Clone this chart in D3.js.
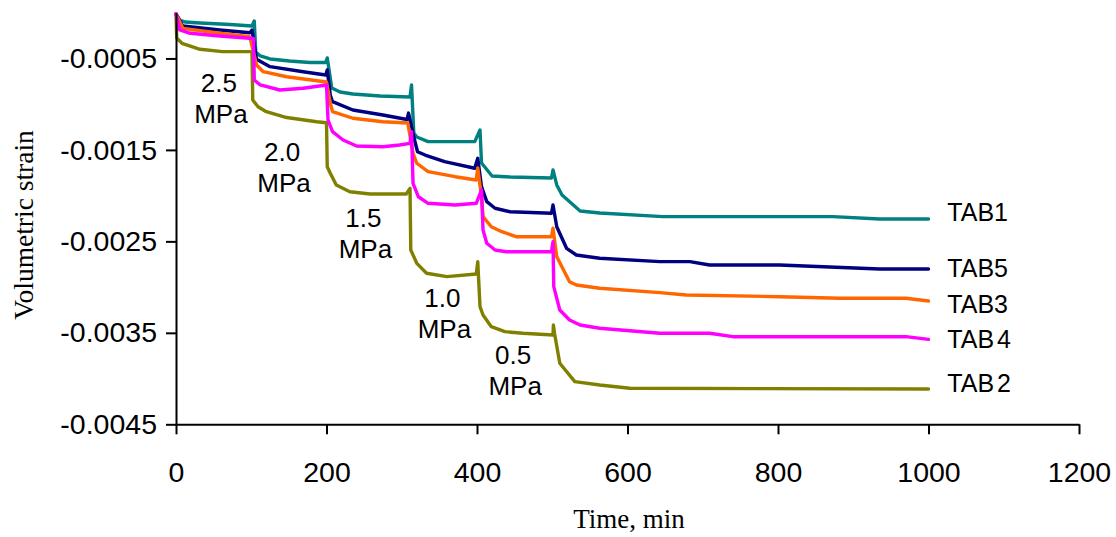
<!DOCTYPE html>
<html>
<head>
<meta charset="utf-8">
<script src="https://cdn.jsdelivr.net/npm/d3@7"></script>
<style>
  html, body { margin: 0; padding: 0; background: #fff; }
  svg { display: block; }
</style>
</head>
<body>
<svg id="chart" width="1116" height="537"></svg>
<script>
// ---------- DATA ----------
const timeTicks = [0, 200, 400, 600, 800, 1000, 1200];
const strainTicks = [-0.0005, -0.0015, -0.0025, -0.0035, -0.0045];

const seriesNames = ["TAB1", "TAB5", "TAB3", "TAB 4", "TAB 2"];
const seriesColors = ["#008080", "#000080", "#FF6600", "#FF00FF", "#808000"];

// [time (min), volumetric strain]
const tab1 = [
  [0,-0.014e-3],[5,-0.080e-3],[12,-0.102e-3],[32,-0.113e-3],[72,-0.129e-3],[101,-0.145e-3],
  [104,-0.091e-3],[106,-0.430e-3],[112,-0.473e-3],[125,-0.506e-3],[151,-0.528e-3],[178,-0.544e-3],[199,-0.544e-3],
  [201,-0.495e-3],[207,-0.823e-3],[218,-0.867e-3],[235,-0.889e-3],[271,-0.911e-3],[311,-0.922e-3],
  [313,-0.790e-3],[316,-1.315e-3],[320,-1.359e-3],[335,-1.410e-3],[397,-1.410e-3],
  [404,-1.282e-3],[406,-1.643e-3],[420,-1.785e-3],[444,-1.796e-3],[499,-1.807e-3],
  [501,-1.720e-3],[506,-1.883e-3],[513,-1.993e-3],[537,-2.168e-3],[563,-2.190e-3],[647,-2.230e-3],
  [873,-2.230e-3],[935,-2.255e-3],[1000,-2.255e-3]
];
const tab5 = [
  [0,-0.014e-3],[9,-0.145e-3],[58,-0.189e-3],[98,-0.219e-3],
  [101,-0.189e-3],[107,-0.509e-3],[125,-0.590e-3],[169,-0.645e-3],[199,-0.681e-3],
  [201,-0.626e-3],[205,-0.900e-3],[208,-0.973e-3],[235,-1.064e-3],[275,-1.118e-3],[307,-1.168e-3],
  [309,-1.097e-3],[317,-1.392e-3],[321,-1.520e-3],[331,-1.556e-3],[357,-1.629e-3],[397,-1.701e-3],
  [401,-1.592e-3],[406,-1.902e-3],[413,-2.066e-3],[424,-2.138e-3],[444,-2.176e-3],[499,-2.193e-3],
  [501,-2.102e-3],[506,-2.340e-3],[519,-2.576e-3],[532,-2.649e-3],[563,-2.685e-3],[643,-2.722e-3],
  [683,-2.722e-3],[709,-2.758e-3],[802,-2.758e-3],[935,-2.802e-3],[1000,-2.802e-3]
];
const tab3 = [
  [0,-0.014e-3],[9,-0.171e-3],[58,-0.225e-3],[98,-0.262e-3],
  [107,-0.572e-3],[116,-0.645e-3],[147,-0.700e-3],[200,-0.758e-3],
  [205,-0.987e-3],[208,-1.082e-3],[235,-1.154e-3],[275,-1.192e-3],[308,-1.206e-3],
  [315,-1.537e-3],[320,-1.646e-3],[335,-1.738e-3],[371,-1.793e-3],[399,-1.829e-3],
  [401,-1.698e-3],[406,-2.012e-3],[408,-2.230e-3],[419,-2.340e-3],[433,-2.394e-3],[452,-2.449e-3],[499,-2.449e-3],
  [501,-2.357e-3],[506,-2.668e-3],[523,-2.941e-3],[532,-2.977e-3],[563,-3.013e-3],[643,-3.061e-3],
  [678,-3.086e-3],[802,-3.105e-3],[882,-3.122e-3],[970,-3.122e-3],[1000,-3.152e-3]
];
const tab4 = [
  [0,-0.014e-3],[5,-0.189e-3],[19,-0.225e-3],[58,-0.255e-3],[98,-0.280e-3],[103,-0.282e-3],
  [104,-0.736e-3],[112,-0.790e-3],[138,-0.845e-3],[169,-0.826e-3],[200,-0.790e-3],
  [202,-1.173e-3],[208,-1.301e-3],[222,-1.392e-3],[240,-1.457e-3],[275,-1.465e-3],[297,-1.446e-3],[311,-1.428e-3],
  [313,-1.301e-3],[315,-1.865e-3],[322,-2.012e-3],[335,-2.084e-3],[371,-2.102e-3],[399,-2.084e-3],
  [406,-1.938e-3],[408,-2.376e-3],[413,-2.521e-3],[424,-2.594e-3],[439,-2.613e-3],[499,-2.613e-3],
  [501,-2.504e-3],[502,-2.995e-3],[510,-3.250e-3],[523,-3.360e-3],[537,-3.414e-3],[563,-3.450e-3],
  [643,-3.505e-3],[709,-3.505e-3],[740,-3.542e-3],[970,-3.542e-3],[1000,-3.571e-3]
];
const tab2 = [
  [0,-0.014e-3],[1,-0.277e-3],[8,-0.335e-3],[32,-0.400e-3],[62,-0.426e-3],[101,-0.426e-3],
  [102,-0.954e-3],[109,-1.028e-3],[120,-1.082e-3],[147,-1.146e-3],[187,-1.192e-3],[200,-1.203e-3],
  [201,-1.684e-3],[205,-1.756e-3],[213,-1.884e-3],[231,-1.957e-3],[258,-1.982e-3],[306,-1.982e-3],
  [311,-1.920e-3],[312,-2.594e-3],[320,-2.740e-3],[333,-2.849e-3],[360,-2.886e-3],[399,-2.857e-3],
  [401,-2.722e-3],[404,-3.214e-3],[408,-3.305e-3],[419,-3.433e-3],[437,-3.487e-3],[461,-3.505e-3],[501,-3.524e-3],
  [501.5,-3.414e-3],[503,-3.505e-3],[510,-3.833e-3],[530,-4.034e-3],[563,-4.070e-3],[603,-4.106e-3],[1000,-4.114e-3]
];
const seriesData = [tab1, tab5, tab3, tab4, tab2];

// end-of-line series labels (time, strain)
const seriesLabelTime = [1025, 1025, 1025, 1025, 1025];
const seriesLabelStrain = [-2.277e-3, -2.893e-3, -3.286e-3, -3.669e-3, -4.150e-3];

// pressure step annotations
const pressureLabels = ["2.5", "2.0", "1.5", "1.0", "0.5"];
const pressureLabelTime = [57, 141, 249, 354, 448];
const pressureLabelStrain = [-0.867e-3, -1.621e-3, -2.343e-3, -3.217e-3, -3.840e-3];

// ---------- CHART ----------
const svg = d3.select("#chart");
const x = d3.scaleLinear().domain([0, 1200]).range([176, 1079]);
const y = d3.scaleLinear().domain([-0.0045, 0]).range([424.3, 12.7]);

const sans = "'Liberation Sans', Arial, sans-serif";
const serif = "'Liberation Serif', 'Times New Roman', serif";

// lines (olive first, magenta last on top)
const drawOrder = [4, 0, 1, 2, 3];
const line = d3.line().x(d => x(d[0])).y(d => y(d[1]));
drawOrder.forEach(i => {
  svg.append("path")
    .datum(seriesData[i])
    .attr("d", line)
    .attr("fill", "none")
    .attr("stroke", seriesColors[i])
    .attr("stroke-width", 3.4)
    .attr("stroke-linejoin", "round")
    .attr("stroke-linecap", "round");
});

// axes
const yAxis = d3.axisLeft(y).tickValues(strainTicks).tickFormat(d => d.toFixed(4))
  .tickSizeInner(10).tickSizeOuter(0).tickPadding(9);
const xAxis = d3.axisBottom(x).tickValues(timeTicks).tickFormat(d => String(d))
  .tickSizeInner(10).tickSizeOuter(0).tickPadding(27);

const gy = svg.append("g").attr("transform", `translate(${x(0)},0)`).call(yAxis);
const gx = svg.append("g").attr("transform", `translate(0,${y(-0.0045)})`).call(xAxis);
[gx, gy].forEach(g => {
  g.select(".domain").attr("stroke", "#000").attr("stroke-width", 2);
  g.selectAll(".tick line").attr("stroke", "#000").attr("stroke-width", 2);
  g.selectAll(".tick text").attr("fill", "#000").style("font-family", sans).style("font-size", "28.5px");
});

// axis titles
svg.append("text")
  .attr("x", 629).attr("y", 528)
  .attr("text-anchor", "middle")
  .style("font-family", serif).style("font-size", "27px")
  .text("Time, min");
svg.append("text")
  .attr("transform", "translate(33,225) rotate(-90)")
  .attr("text-anchor", "middle")
  .style("font-family", serif).style("font-size", "27.5px")
  .text("Volumetric strain");

// pressure annotations
pressureLabels.forEach((p, i) => {
  const t = svg.append("text")
    .attr("text-anchor", "middle")
    .style("font-family", sans).style("font-size", "26px");
  t.append("tspan").attr("x", x(pressureLabelTime[i])).attr("y", y(pressureLabelStrain[i])).text(p);
  t.append("tspan").attr("x", x(pressureLabelTime[i]) + 2).attr("dy", 31).text("MPa");
});

// series labels
seriesNames.forEach((n, i) => {
  svg.append("text")
    .attr("x", x(seriesLabelTime[i])).attr("y", y(seriesLabelStrain[i]))
    .style("font-family", sans).style("font-size", "25px")
    .style("word-spacing", "-4px")
    .text(n);
});
</script>
</body>
</html>
